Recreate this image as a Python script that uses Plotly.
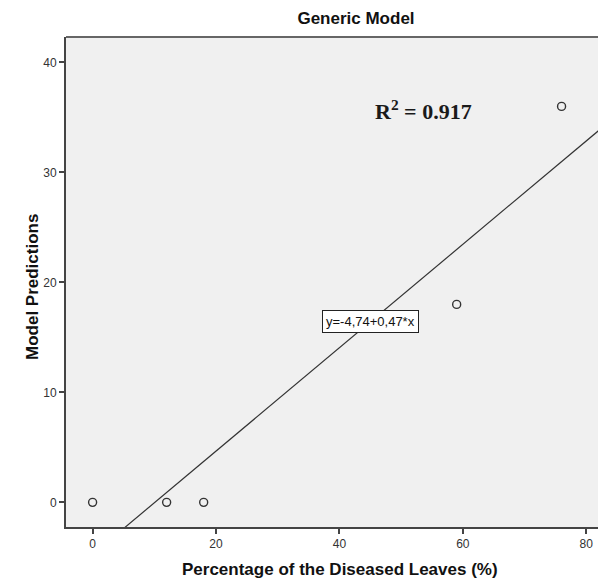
import plotly.graph_objects as go

# Data
disease_pct = [0, 12, 18, 59, 76]
model_pred = [0, 0, 0, 18, 36]
intercept = -4.74
slope = 0.47
r_squared = 0.917
x_ticks = [0, 20, 40, 60, 80]
y_ticks = [0, 10, 20, 30, 40]

x_range = [-4.31, 83.2]
y_range = [-2.24, 42.31]

line_x = [x_range[0], x_range[1]]
line_y = [intercept + slope * v for v in line_x]

W, H = 598, 573
L, R, T, B = 58, 0, 29, 54
PW, PH = W - L - R, H - T - B


def px_x(px):
    return (px - L) / PW


def px_y(py):
    return (H - B - py) / PH


fig = go.Figure()
fig.add_trace(go.Scatter(
    x=line_x, y=line_y, mode="lines",
    line=dict(color="#333333", width=1.2),
    hoverinfo="skip", showlegend=False,
))
fig.add_trace(go.Scatter(
    x=disease_pct, y=model_pred, mode="markers",
    marker=dict(symbol="circle-open", size=8, color="#333333", line=dict(width=1.4)),
    showlegend=False,
))

fig.add_annotation(
    x=45.0, y=16.4, xref="x", yref="y",
    text="y=-4,74+0,47*x", showarrow=False,
    font=dict(family="Arial, Liberation Sans", size=13, color="#111111"),
    bgcolor="white", bordercolor="#222222", borderwidth=1, borderpad=3,
)
fig.add_annotation(
    x=45.4, y=35.7, xref="x", yref="y", xanchor="left",
    text="R<sup>2</sup> = %.3f" % r_squared, showarrow=False,
    font=dict(family="Liberation Serif, Times New Roman", size=22, color="#1a1a1a", weight="bold"),
)

# axis titles
fig.add_annotation(
    x=px_x(332), y=px_y(561), xref="paper", yref="paper",
    xanchor="center", yanchor="middle", showarrow=False,
    text="<b>Percentage of the Diseased Leaves (%)</b>",
    font=dict(family="Arial, Liberation Sans", size=17, color="#111111"),
)
fig.add_annotation(
    x=px_x(24), y=px_y(279), xref="paper", yref="paper",
    xanchor="center", yanchor="middle", showarrow=False, textangle=-90,
    text="<b>Model Predictions</b>",
    font=dict(family="Arial, Liberation Sans", size=17, color="#111111"),
)

# top border
fig.add_shape(type="line", xref="paper", yref="paper", x0=0, x1=1, y0=1, y1=1,
              line=dict(color="#666666", width=2))

fig.update_layout(
    width=W, height=H,
    margin=dict(l=L, r=R, t=T, b=B),
    paper_bgcolor="white",
    plot_bgcolor="#F0F0F0",
    title=dict(text="<b>Generic Model</b>", x=348 / W, xanchor="center", y=1 - 10 / H, yanchor="middle",
               font=dict(family="Arial, Liberation Sans", size=17, color="#111111")),
    font=dict(family="Arial, Liberation Sans", size=12, color="#333333"),
    xaxis=dict(
        range=x_range, tickvals=x_ticks, showgrid=False, zeroline=False,
        showline=True, linecolor="#444444", linewidth=2,
        ticks="outside", ticklen=5, tickwidth=1.5, tickcolor="#444444",
    ),
    yaxis=dict(
        range=y_range, tickvals=y_ticks, showgrid=False, zeroline=False,
        showline=True, linecolor="#444444", linewidth=2,
        ticks="outside", ticklen=5, tickwidth=1.5, tickcolor="#444444",
    ),
)

fig.write_html("out.html")
